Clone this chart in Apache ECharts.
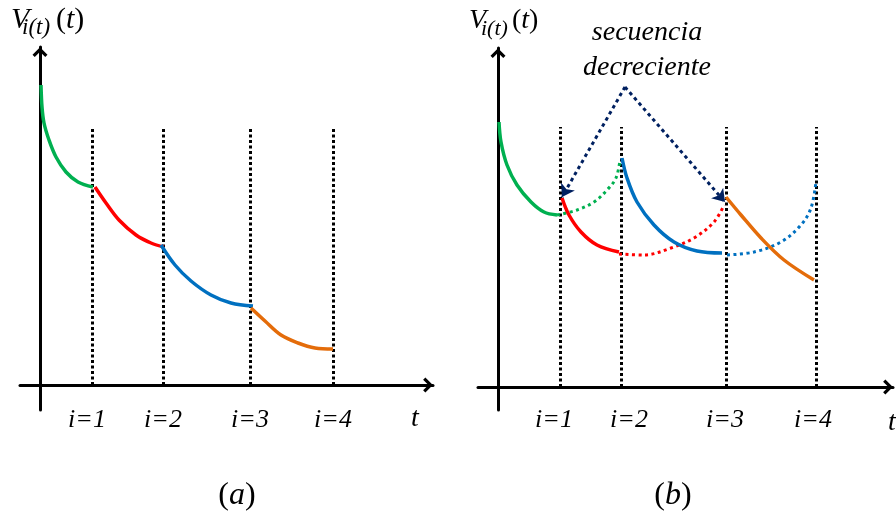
<!DOCTYPE html>
<html>
<head>
<meta charset="utf-8">
<script src="https://cdn.jsdelivr.net/npm/echarts@6/dist/echarts.min.js"></script>
<style>
  html, body { margin: 0; padding: 0; background: #fff; }
  #chart { width: 896px; height: 520px; }
</style>
</head>
<body>
<div id="chart"></div>
<script>
// ---- Panel (a): one decaying stage per interval ----
const aStageLines = [5.2, 12.3, 21.0, 29.3];     // i = 1..4 on the t axis
const aStageLabels = [4.7, 12.3, 21.0, 29.3];    // where the "i=k" labels sit
const aLineTop = 25.8;
const aGreen  = [[0.1, 30.0], [0.2, 27.8], [0.4, 26.2], [0.9, 24.5], [1.6, 22.8], [2.6, 21.3], [3.8, 20.3], [5.3, 19.8]];
const aRed    = [[5.5, 19.8], [6.6, 18.2], [7.9, 16.5], [9.6, 15.0], [11.1, 14.2], [12.4, 13.8]];
const aBlue   = [[12.1, 14.0], [13.5, 12.0], [15.1, 10.4], [17.1, 9.0], [19.1, 8.2], [21.3, 7.9]];
const aOrange = [[21.1, 7.7], [22.5, 6.4], [24.1, 5.0], [25.8, 4.2], [27.5, 3.7], [29.3, 3.6]];

// ---- Panel (b): overlapping stages, solid + projected (dotted) parts ----
const bStageLines = [6.2, 12.3, 22.8, 31.8];
const bStageLabels = [5.6, 13.1, 22.7, 31.5];
const bLineTop = 26.0;
const bGreen       = [[0.1, 26.5], [0.3, 24.5], [0.9, 22.2], [1.9, 20.2], [3.3, 18.5], [4.6, 17.5], [5.9, 17.2]];
const bGreenDot    = [[5.9, 17.2], [7.9, 17.7], [9.6, 18.5], [10.9, 19.7], [11.8, 20.9], [12.2, 22.7]];
const bRed         = [[6.4, 18.9], [7.1, 17.2], [8.3, 15.5], [9.9, 14.2], [12.1, 13.5]];
const bRedDot      = [[12.1, 13.3], [14.6, 13.2], [17.3, 13.9], [19.6, 14.9], [21.6, 16.5], [22.6, 18.2]];
const bBlue        = [[12.4, 22.9], [12.9, 20.9], [13.9, 18.5], [15.6, 16.2], [17.6, 14.5], [19.9, 13.6], [22.4, 13.4]];
const bBlueDot     = [[22.9, 13.2], [25.6, 13.5], [28.3, 14.5], [30.3, 16.2], [31.3, 17.9], [31.8, 20.5]];
const bOrange      = [[22.8, 19.0], [24.3, 17.2], [26.3, 14.9], [28.6, 12.7], [31.6, 10.7]];
const bArrowApex   = [12.7, 30.0];
const bArrowTips   = [[6.4, 19.0], [22.7, 18.5]];

const GREEN = '#00b050', RED = '#ff0000', BLUE = '#0070c0', ORANGE = '#e46c0a', NAVY = '#002060';
const SERIF = '"Liberation Serif", "Times New Roman", serif';
const chevron = 'path://M0,10 L10,0 L20,10 L17,13 L10,6 L3,13 Z';

function xAxisFor(gridIndex, min, max, labelPos) {
  return {
    type: 'value', gridIndex, min, max,
    axisLine: {
      onZero: true,
      lineStyle: { color: '#000', width: 3 },
      symbol: ['none', chevron], symbolSize: [15, 10], symbolOffset: [0, -5]
    },
    axisTick: { show: false },
    splitLine: { show: false },
    axisLabel: {
      customValues: labelPos,
      formatter: function (v) {
        let best = 0;
        labelPos.forEach(function (p, i) { if (Math.abs(p - v) < Math.abs(labelPos[best] - v)) best = i; });
        return 'i=' + (best + 1);
      },
      color: '#000', fontFamily: SERIF, fontStyle: 'italic', fontSize: 26, margin: -3
    }
  };
}
function yAxisFor(gridIndex, min, max) {
  return {
    type: 'value', gridIndex, min, max,
    axisLine: {
      onZero: true,
      lineStyle: { color: '#000', width: 3 },
      symbol: ['none', chevron], symbolSize: [15, 10], symbolOffset: [0, -5]
    },
    axisTick: { show: false },
    splitLine: { show: false },
    axisLabel: { show: false }
  };
}
function curve(idx, data, color, dotted) {
  return {
    type: 'line', xAxisIndex: idx, yAxisIndex: idx, data,
    showSymbol: false, symbol: 'none', smooth: 0.35,
    lineStyle: { color, width: dotted ? 3 : 3.5, type: dotted ? [3, 3.5] : 'solid', cap: 'butt' },
    z: 3, silent: true
  };
}
function stageLines(idx, xs, top) {
  return {
    type: 'lines', coordinateSystem: 'cartesian2d', xAxisIndex: idx, yAxisIndex: idx,
    data: xs.map(function (x) { return { coords: [[x, 0], [x, top]] }; }),
    lineStyle: { color: '#000', width: 3, type: [3, 2.5], opacity: 1 },
    z: 1, silent: true
  };
}
function vLabel(x, y, sizeBig, sizeSub, subDx, parDx) {
  return [
    { type: 'text', x: x, y: y, style: { text: 'V', font: 'italic ' + sizeBig + 'px ' + SERIF, fill: '#000', verticalAlign: 'middle' } },
    { type: 'text', x: x + subDx, y: y + 8, style: { text: 'i(t)', font: 'italic ' + sizeSub + 'px ' + SERIF, fill: '#000', verticalAlign: 'middle' } },
    { type: 'text', x: x + parDx, y: y, style: {
        text: '{p|(}{t|t}{p|)}', verticalAlign: 'middle',
        rich: {
          p: { fontFamily: SERIF, fontSize: sizeBig, color: '#000' },
          t: { fontFamily: SERIF, fontStyle: 'italic', fontSize: sizeBig, color: '#000' }
        }
      } }
  ];
}
function plainText(x, y, text, size, align) {
  return { type: 'text', x: x, y: y, style: { text: text, font: 'italic ' + size + 'px ' + SERIF, fill: '#000', align: align || 'center', verticalAlign: 'middle' } };
}
function parenText(x, y, letter) {
  return { type: 'text', x: x, y: y, style: {
    text: '{p|(}{t|' + letter + '}{p|)}', align: 'center', verticalAlign: 'middle',
    rich: {
      p: { fontFamily: SERIF, fontSize: 32, color: '#000' },
      t: { fontFamily: SERIF, fontStyle: 'italic', fontSize: 32, color: '#000' }
    }
  } };
}

const chart = echarts.init(document.getElementById('chart'), null, { renderer: 'canvas' });
chart.setOption({
  animation: false,
  backgroundColor: '#fff',
  grid: [
    { left: 20, top: 47, width: 413, height: 363 },
    { left: 478, top: 48, width: 415, height: 362 }
  ],
  xAxis: [xAxisFor(0, -2, 39.3, aStageLabels), xAxisFor(1, -2, 39.5, bStageLabels)],
  yAxis: [yAxisFor(0, -2.5, 33.8), yAxisFor(1, -2.3, 33.9)],
  series: [
    stageLines(0, aStageLines, aLineTop),
    curve(0, aGreen, GREEN), curve(0, aRed, RED), curve(0, aBlue, BLUE), curve(0, aOrange, ORANGE),

    stageLines(1, bStageLines, bLineTop),
    curve(1, bGreenDot, GREEN, true), curve(1, bRedDot, RED, true), curve(1, bBlueDot, BLUE, true),
    curve(1, bGreen, GREEN), curve(1, bRed, RED), curve(1, bBlue, BLUE), curve(1, bOrange, ORANGE),
    {
      type: 'lines', coordinateSystem: 'cartesian2d', xAxisIndex: 1, yAxisIndex: 1,
      data: bArrowTips.map(function (tip) { return { coords: [bArrowApex, tip] }; }),
      symbol: ['none', 'arrow'], symbolSize: 12,
      lineStyle: { color: NAVY, width: 3, type: [3.5, 3.5], opacity: 1, curveness: 0 },
      z: 4, silent: true
    }
  ],
  graphic: [].concat(
    vLabel(11, 20, 30, 23, 11, 45),
    vLabel(469, 21, 28, 22, 12, 43),
    [
      plainText(415, 419, 't', 28),
      plainText(892, 423, 't', 28),
      parenText(237, 496, 'a'),
      parenText(673, 496, 'b'),
      plainText(647, 33, 'secuencia', 28),
      plainText(647, 68, 'decreciente', 28)
    ]
  )
});
</script>
</body>
</html>
